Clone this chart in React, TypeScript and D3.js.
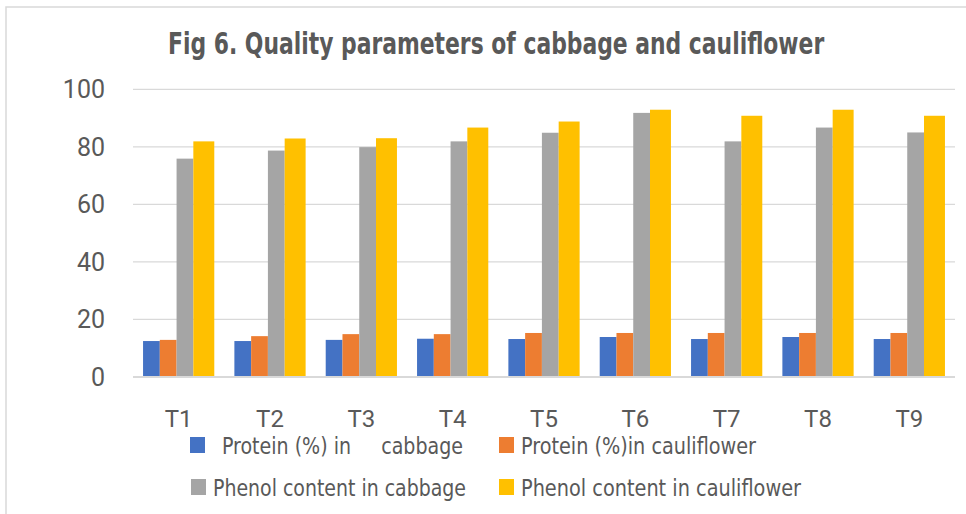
import { useLayoutEffect, useRef, useState } from 'react'
import * as d3 from 'd3'

const categories = ['T1', 'T2', 'T3', 'T4', 'T5', 'T6', 'T7', 'T8', 'T9']
const proteinCabbage = [12.5, 12.5, 12.9, 13.3, 13.2, 13.9, 13.2, 13.9, 13.2]
const proteinCauliflower = [12.9, 14.2, 14.9, 14.9, 15.3, 15.3, 15.3, 15.3, 15.3]
const phenolCabbage = [75.9, 78.7, 79.9, 81.9, 84.9, 91.8, 81.9, 86.7, 85.0]
const phenolCauliflower = [81.9, 82.9, 83.0, 86.7, 88.8, 92.9, 90.8, 92.9, 90.8]
const yTicks = [0, 20, 40, 60, 80, 100]
const seriesNames = [
  'Protein (%) in     cabbage',
  'Protein (%)in cauliflower',
  'Phenol content in cabbage',
  'Phenol content in cauliflower',
]
const title = 'Fig 6. Quality parameters of cabbage and cauliflower'

const colors = ['#4472c4', '#ed7d31', '#a5a5a5', '#ffc000']
// yellow bars come out a bit wider in the source picture
const barWeights = [1, 1, 1, 1.25]
const series = [proteinCabbage, proteinCauliflower, phenolCabbage, phenolCauliflower]

const W = 966
const H = 514
const TEXT = '#595959'
const FONT = '"Liberation Sans Narrow", "DejaVu Sans Condensed", Roboto, sans-serif'
const TITLE_W = 656

// legend placement: [squareX, squareY, textX, textY, textWidth]
const legendLayout = [
  [190, 437, 222, 454, 241],
  [499, 437, 521, 454, 235],
  [191, 479, 213, 496, 253],
  [499, 479, 521, 496, 280],
]

export default function App() {
  const titleRef = useRef<SVGTextElement>(null)
  const [titleScale, setTitleScale] = useState(0.72)

  useLayoutEffect(() => {
    const el = titleRef.current
    if (!el) return
    const w = el.getComputedTextLength()
    if (w > 0) setTitleScale(TITLE_W / w)
  }, [])

  const x = d3.scaleBand<string>().domain(categories).range([133, 955])
  const y = d3.scaleLinear().domain([0, 100]).range([377, 89.3])

  const groupW = x.bandwidth() * 0.78
  const totalWeight = d3.sum(barWeights)
  const offsets = d3.cumsum([0, ...barWeights.slice(0, -1)])
  const xs = d3.scaleLinear().domain([0, totalWeight]).range([0, groupW])
  const groupStart = (x.bandwidth() - groupW) / 2

  return (
    <svg width={W} height={H} style={{ position: 'absolute', left: 0, top: 0, background: '#fff' }}>
      <rect x={6} y={7} width={W} height={H} fill="#fff" stroke="#d9d9d9" strokeWidth={1.5} />
      <g transform={`translate(168,54) scale(${titleScale},1)`}>
        <text ref={titleRef} x={0} y={0} fontFamily={FONT} fontWeight="bold" fontSize={30} fill={TEXT}>
          {title}
        </text>
      </g>

      {yTicks.map(t => (
        <g key={t}>
          {t > 0 && <line x1={133} x2={955} y1={y(t)} y2={y(t)} stroke="#d9d9d9" strokeWidth={1.2} />}
          <text
            x={105}
            y={y(t) + 9}
            textAnchor="end"
            fontFamily='Roboto, "Liberation Sans", sans-serif'
            fontSize={25}
            fill={TEXT}
          >
            {t}
          </text>
        </g>
      ))}

      {categories.map((c, i) => (
        <g key={c} transform={`translate(${x(c)! + groupStart},0)`}>
          {series.map((s, k) => (
            <rect
              key={k}
              x={xs(offsets[k])}
              y={y(s[i])}
              width={xs(barWeights[k]) - xs(0)}
              height={y(0) - y(s[i])}
              fill={colors[k]}
            />
          ))}
        </g>
      ))}

      <line x1={133} x2={955} y1={y(0)} y2={y(0)} stroke="#d9d9d9" strokeWidth={2} />

      {categories.map(c => (
        <text
          key={c}
          x={x(c)! + x.bandwidth() / 2}
          y={427}
          textAnchor="middle"
          fontFamily='Roboto, "Liberation Sans", sans-serif'
          fontSize={24}
          fill={TEXT}
        >
          {c}
        </text>
      ))}

      {seriesNames.map((name, k) => {
        const [sx, sy, tx, ty, tw] = legendLayout[k]
        return (
          <g key={name}>
            <rect x={sx} y={sy} width={15} height={16} fill={colors[k]} />
            <text
              x={tx}
              y={ty}
              fontFamily={FONT}
              fontSize={23}
              fill={TEXT}
              textLength={tw}
              lengthAdjust="spacingAndGlyphs"
              style={{ whiteSpace: 'pre' }}
            >
              {name}
            </text>
          </g>
        )
      })}
    </svg>
  )
}
